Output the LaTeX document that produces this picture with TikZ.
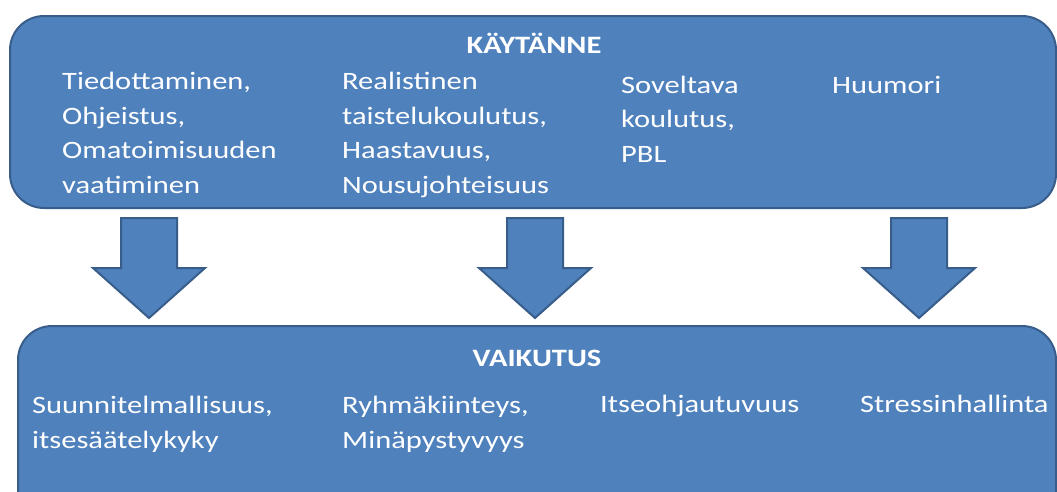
\documentclass[tikz,border=0pt]{standalone}
\usepackage{fontspec}
\setmainfont{Carlito}[FakeStretch=1.22]
\usepackage{tikz}

\definecolor{boxfill}{HTML}{4F81BD}
\definecolor{boxline}{HTML}{385D8A}

\begin{document}
\begin{tikzpicture}[x=1pt,y=-1pt,
    panel/.style={draw=boxline,fill=boxfill,line width=2pt,rounded corners=34pt},
    blockarrow/.style={draw=boxline,fill=boxfill,line width=2pt,line join=miter},
    title/.style={text=white,font=\fontsize{25}{34}\selectfont\bfseries,inner sep=0pt,anchor=base},
    item/.style={text=white,font=\fontsize{25}{34.5}\selectfont,inner sep=0pt,anchor=base west,align=left}]
  \clip (0,0) rectangle (1057,491);

  % boxes
  \draw[panel] (10,16) rectangle (1056,208);
  \draw[panel] (18,326) rectangle (1056,540);

  % arrows
  \foreach \x in {149,535,919}
    \draw[blockarrow] (\x-28,218) -- (\x+28,218) -- (\x+28,268) -- (\x+56,268)
      -- (\x,318) -- (\x-56,268) -- (\x-28,268) -- cycle;

  % texts (anchored at the baseline of the last line)
  \node[title] (kaytanne) at (534,53) {KÄYTÄNNE};
  \node[item] (tied) at (62,193) {Tiedottaminen,\\Ohjeistus,\\Omatoimisuuden\\vaatiminen};
  \node[item] (real) at (342,193) {Realistinen\\taistelukoulutus,\\Haastavuus,\\Nousujohteisuus};
  \node[item] (sov) at (621,162) {Soveltava\\koulutus,\\PBL};
  \node[item] (huum) at (832,93) {Huumori};

  \node[title] (vaikutus) at (537,366) {VAIKUTUS};
  \node[item] (suun) at (32,448) {Suunnitelmallisuus,\\itsesäätelykyky};
  \node[item] (ryhm) at (342,448) {Ryhmäkiinteys,\\Minäpystyvyys};
  \node[item] (itse) at (600,412) {Itseohjautuvuus};
  \node[item] (stress) at (860,412) {Stressinhallinta};
\end{tikzpicture}
\end{document}
